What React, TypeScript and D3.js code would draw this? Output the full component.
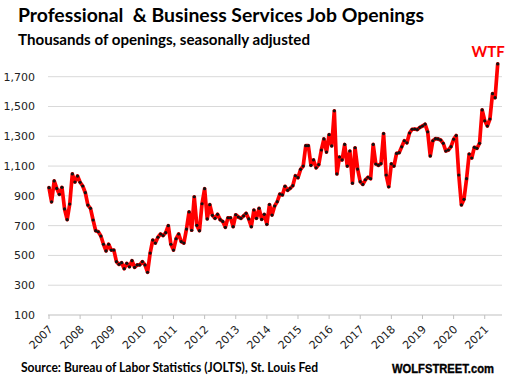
import React from "react";
import * as d3 from "d3";

const v2007 = [955, 860, 1000, 950, 910, 957, 812, 740, 845, 1047, 993, 1033];
const v2008 = [991, 966, 921, 838, 816, 738, 666, 659, 630, 575, 530, 575];
const v2009 = [536, 536, 458, 440, 451, 411, 447, 424, 465, 420, 436, 436];
const v2010 = [458, 436, 387, 516, 603, 583, 622, 644, 633, 653, 700, 575];
const v2011 = [536, 612, 644, 592, 583, 677, 792, 669, 894, 702, 666, 847];
const v2012 = [948, 745, 841, 769, 749, 776, 740, 728, 689, 753, 753, 693];
const v2013 = [773, 758, 749, 765, 783, 745, 693, 805, 749, 816, 742, 776];
const v2014 = [709, 842, 771, 832, 861, 912, 906, 964, 937, 951, 968, 1035];
const v2015 = [1022, 1078, 1100, 1237, 1237, 1105, 1141, 1088, 1110, 1208, 1282, 1194];
const v2016 = [1311, 1235, 1471, 1047, 1161, 1141, 1245, 1100, 1201, 985, 1223, 1080];
const v2017 = [995, 977, 1008, 1025, 1015, 1245, 1114, 1105, 1116, 1318, 1040, 961];
const v2018 = [1115, 1100, 1185, 1190, 1229, 1270, 1256, 1322, 1347, 1349, 1345, 1360];
const v2019 = [1369, 1381, 1330, 1168, 1270, 1284, 1282, 1275, 1253, 1201, 1208, 1230];
const v2020 = [1280, 1305, 1040, 839, 877, 1015, 1181, 1154, 1226, 1219, 1253, 1477];
const v2021 = [1404, 1369, 1416, 1586, 1559, 1786];

const yearLabels = ["2007", "2008", "2009", "2010", "2011", "2012", "2013", "2014", "2015", "2016", "2017", "2018", "2019", "2020", "2021"];
const yTicks = [100, 300, 500, 700, 900, 1100, 1300, 1500, 1700];

const title = "Professional  & Business Services Job Openings";
const subtitle = "Thousands of openings, seasonally adjusted";
const annotation = "WTF";
const source = "Source: Bureau of Labor Statistics (JOLTS), St. Louis Fed";
const brand = "WOLFSTREET.com";

const values = [
  ...v2007, ...v2008, ...v2009, ...v2010, ...v2011, ...v2012, ...v2013, ...v2014,
  ...v2015, ...v2016, ...v2017, ...v2018, ...v2019, ...v2020, ...v2021,
];
const data = values.map((v, i) => ({ i, v }));

export default function App() {
  const W = 508, H = 387;
  const x = d3.scaleLinear().domain([0, values.length - 1]).range([49, 497.7]);
  const y = d3.scaleLinear().domain([100, 1700]).range([315, 76.7]);
  const line = d3.line<{ i: number; v: number }>().x((d) => x(d.i)).y((d) => y(d.v));
  const gridX0 = 48, gridX1 = 502;
  const fmt = d3.format(",");
  const last = data[data.length - 1];
  const L = 60, c = Math.SQRT1_2;
  return (
    <svg width={W} height={H} style={{ position: "absolute", left: 0, top: 0, background: "#fff" }}>
      <rect width={W} height={H} fill="#fff" />
      <defs>
        {yearLabels.map((lab, k) => {
          const ax = x(k * 12) + 4.5, ay = 330;
          return <path key={lab} id={`yl${k}`} d={`M${ax - L * c},${ay + L * c}L${ax},${ay}`} />;
        })}
      </defs>
      <text x={18} y={22} fontFamily="Lato" fontWeight={700} fontSize={19} fill="#000" style={{ whiteSpace: "pre" }} textLength={406} lengthAdjust="spacingAndGlyphs">{title}</text>
      <text x={18} y={44.5} fontFamily="Lato" fontWeight={700} fontSize={15.1} fill="#000" textLength={292} lengthAdjust="spacingAndGlyphs">{subtitle}</text>
      {yTicks.map((t) => (
        <g key={t}>
          <line x1={gridX0} x2={gridX1} y1={y(t)} y2={y(t)} stroke={t === 100 ? "#bfbfbf" : "#d9d9d9"} strokeWidth={1} />
          <text x={35} y={y(t) + 4} textAnchor="end" fontFamily="DejaVu Sans" fontSize={11} fill="#222">{fmt(t)}</text>
        </g>
      ))}
      {yearLabels.map((lab, k) => {
        const tx = x(k * 12);
        return (
          <g key={lab}>
            <line x1={tx} x2={tx} y1={315} y2={319} stroke="#bfbfbf" />
            <text fontFamily="DejaVu Sans" fontSize={11} fill="#222">
              <textPath href={`#yl${k}`} startOffset="100%" textAnchor="end">{lab}</textPath>
            </text>
          </g>
        );
      })}
      <path d={line(data) || ""} fill="none" stroke="#ff0000" strokeWidth={3.7} strokeLinejoin="round" strokeLinecap="round" />
      {data.map((d) => (
        <circle key={d.i} cx={x(d.i)} cy={y(d.v)} r={1.6} fill="#111" />
      ))}
      <text x={x(last.i) + 7} y={y(last.v) - 6.5} textAnchor="end" fontFamily="Lato" fontWeight={700} fontSize={15} fill="#ff0000">{annotation}</text>
      <text x={21} y={372} fontFamily="Lato" fontWeight={700} fontSize={12.7} fill="#000" textLength={297} lengthAdjust="spacingAndGlyphs">{source}</text>
      <text x={392} y={372.5} fontFamily="Liberation Sans" fontWeight={700} fontSize={12.2} fill="#000" stroke="#000" strokeWidth={0.35} textLength={102} lengthAdjust="spacingAndGlyphs">{brand}</text>
    </svg>
  );
}
